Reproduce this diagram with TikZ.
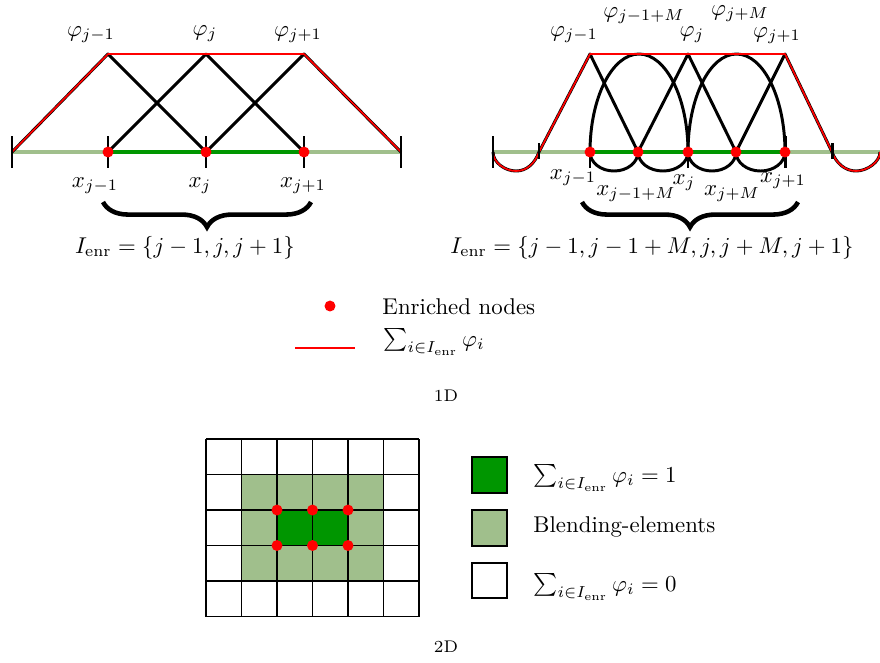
\documentclass[tikz,border=0pt]{standalone}
\usetikzlibrary{decorations.pathreplacing}
\definecolor{dgreen}{RGB}{0,150,0}
\definecolor{lgreen}{RGB}{160,191,140}
\definecolor{myred}{RGB}{255,0,0}
\begin{document}
\begin{tikzpicture}[x=0.438pt,y=-0.438pt,
 axisl/.style={lgreen,line width=1.4pt},
 axisd/.style={dgreen,line width=1.4pt},
 fn/.style={black,line width=1.3pt,line join=round},
 sumline/.style={myred,line width=0.75pt,line join=round},
 tickmark/.style={black,line width=1.3pt},
 enr/.style={circle,fill=myred,inner sep=0pt,minimum size=4.8pt},
 lbl/.style={inner sep=0pt,anchor=base},
 brc/.style={decorate,decoration={brace,mirror,amplitude=11pt},line width=2pt},
 cell/.style={draw=black,line width=0.7pt},
 legbox/.style={draw=black,line width=0.9pt}]
\useasboundingbox (0,0) rectangle (880,662);

% ---------------- left 1D ----------------
\coordinate (L0) at (12,152);
\coordinate (L1) at (108,152);
\coordinate (L2) at (206,152);
\coordinate (L3) at (304,152);
\coordinate (L4) at (401,152);
\coordinate (P1) at (108,54);
\coordinate (P2) at (206,54);
\coordinate (P3) at (304,54);
\draw[axisl] (L0) -- (L4);
\draw[axisd] (L1) -- (L3);
\draw[fn] (L0) -- (P1) -- (L2);
\draw[fn] (L1) -- (P2) -- (L3);
\draw[fn] (L2) -- (P3) -- (L4);
\draw[sumline] (L0) -- (P1) -- (P3) -- (L4);
\foreach \x in {12,108,206,304,401} \draw[tickmark] (\x,136) -- (\x,168);
\node[enr] (le1) at (L1) {};
\node[enr] (le2) at (L2) {};
\node[enr] (le3) at (L3) {};
\node[lbl] (lphi1) at (91,36) {$\varphi_{j-1}$};
\node[lbl] (lphi2) at (205,35) {$\varphi_{j}$};
\node[lbl] (lphi3) at (298,36) {$\varphi_{j+1}$};
\node[lbl] (lx1) at (95,187) {$x_{j-1}$};
\node[lbl] (lx2) at (200,187) {$x_{j}$};
\node[lbl] (lx3) at (303,187) {$x_{j+1}$};
\coordinate (lb1) at (103,202);
\coordinate (lb2) at (311,202);
\draw[brc] (lb1) -- (lb2);
\node[lbl] (lI) at (185,253) {$I_{\mathrm{enr}}=\{j-1,j,j+1\}$};

% ---------------- right 1D ----------------
\coordinate (R0) at (493,152);
\coordinate (Ra) at (539,152);
\coordinate (R1) at (590,152);
\coordinate (R2) at (638,152);
\coordinate (R3) at (688,152);
\coordinate (R4) at (736,152);
\coordinate (R5) at (785,152);
\coordinate (Rb) at (832,152);
\coordinate (R6) at (880,152);
\coordinate (Q1) at (590,54);
\coordinate (Q2) at (688,54);
\coordinate (Q3) at (785,54);
\coordinate (Qa) at (639,54);
\coordinate (Qb) at (736.5,54);
\draw[axisl] (R0) -- (R6);
\draw[axisd] (R1) -- (R5);
% hat functions
\draw[fn] (R0) .. controls (493,162.5) and (505,171) .. (516,171) .. controls (527,171) and (535,163) .. (Ra) -- (Q1) -- (R2);
\draw[fn] (R2) -- (Q2) -- (R4);
\draw[fn] (R4) -- (Q3) -- (Rb) .. controls (836,163) and (845,171) .. (856,171) .. controls (867,171) and (880,162) .. (R6);
% enriched arches
\draw[fn] (R1) .. controls (590,97.9) and (612,54) .. (Qa) .. controls (666,54) and (688,97.9) .. (R3);
\draw[fn] (R3) .. controls (688,97.9) and (709.7,54) .. (Qb) .. controls (763.3,54) and (785,97.9) .. (R5);
% dips below the axis
\draw[fn] (R1) .. controls (590,162.5) and (600.7,171) .. (614,171) .. controls (627.3,171) and (638,162.5) .. (R2);
\draw[fn] (R2) .. controls (638,162.5) and (649.2,171) .. (663,171) .. controls (676.8,171) and (688,162.5) .. (R3);
\draw[fn] (R3) .. controls (688,162.5) and (698.7,171) .. (712,171) .. controls (725.3,171) and (736,162.5) .. (R4);
\draw[fn] (R4) .. controls (736,162.5) and (747,171) .. (760.5,171) .. controls (774,171) and (785,162.5) .. (R5);
% sum of functions
\draw[sumline] (R0) .. controls (493,162.5) and (505,171) .. (516,171) .. controls (527,171) and (535,163) .. (Ra) -- (Q1) -- (Q3) -- (Rb) .. controls (836,163) and (845,171) .. (856,171) .. controls (867,171) and (880,162) .. (R6);
\foreach \x in {493,590,688,785} \draw[tickmark] (\x,136) -- (\x,168);
\foreach \x in {539,832} \draw[tickmark] (\x,143) -- (\x,159);
\node[enr] (re1) at (R1) {};
\node[enr] (re2) at (R2) {};
\node[enr] (re3) at (R3) {};
\node[enr] (re4) at (R4) {};
\node[enr] (re5) at (R5) {};
\node[lbl] (rphi1) at (574,36) {$\varphi_{j-1}$};
\node[lbl] (rphiM1) at (644,17) {$\varphi_{j-1+M}$};
\node[lbl] (rphi2) at (692,36) {$\varphi_{j}$};
\node[lbl] (rphiM2) at (740,15) {$\varphi_{j+M}$};
\node[lbl] (rphi3) at (777,37) {$\varphi_{j+1}$};
\node[lbl] (rx1) at (573,179) {$x_{j-1}$};
\node[lbl] (rxM1) at (636,195) {$x_{j-1+M}$};
\node[lbl] (rx2) at (684,184) {$x_{j}$};
\node[lbl] (rxM2) at (732,195) {$x_{j+M}$};
\node[lbl] (rx3) at (783,182) {$x_{j+1}$};
\coordinate (rb1) at (582,202);
\coordinate (rb2) at (798,202);
\draw[brc] (rb1) -- (rb2);
\node[lbl] (rI) at (652,253) {$I_{\mathrm{enr}}=\{j-1,j-1+M,j,j+M,j+1\}$};

% ---------------- 1D legend ----------------
\node[enr] (legdot) at (330,306) {};
\node[inner sep=0pt,anchor=base west] (legdottxt) at (382,314) {Enriched nodes};
\coordinate (ll1) at (295,348);
\coordinate (ll2) at (355,348);
\draw[sumline] (ll1) -- (ll2);
\node[inner sep=0pt,anchor=west] (leglinetxt) at (383,342) {$\sum_{i\in I_{\mathrm{enr}}}\varphi_i$};
\node[inner sep=0pt] (t1d) at (446,396) {\fontsize{7.4}{9}\selectfont 1D};

% ---------------- 2D grid ----------------
\fill[lgreen] (241.5,474.5) rectangle (383.5,581);
\fill[dgreen] (277,510) rectangle (348,545.5);
\foreach \i in {0,...,6} \draw[cell] ({206+35.5*\i},439) -- ({206+35.5*\i},616.5);
\foreach \j in {0,...,5} \draw[cell] (206,{439+35.5*\j}) -- (419,{439+35.5*\j});
\node[enr] (g1) at (277,510) {};
\node[enr] (g2) at (312.5,510) {};
\node[enr] (g3) at (348,510) {};
\node[enr] (g4) at (277,545.5) {};
\node[enr] (g5) at (312.5,545.5) {};
\node[enr] (g6) at (348,545.5) {};

% ---------------- 2D legend ----------------
\draw[legbox,fill=dgreen] (472,457) rectangle (507,493);
\draw[legbox,fill=lgreen] (472,510) rectangle (507,546);
\draw[legbox,fill=white] (472,563) rectangle (507,598);
\node[inner sep=0pt,anchor=west] (lg1) at (533,478) {$\sum_{i\in I_{\mathrm{enr}}}\varphi_i=1$};
\node[inner sep=0pt,anchor=base west] (lg2) at (533,532) {Blending-elements};
\node[inner sep=0pt,anchor=west] (lg3) at (533,587) {$\sum_{i\in I_{\mathrm{enr}}}\varphi_i=0$};
\node[inner sep=0pt] (t2d) at (446,647) {\fontsize{7.4}{9}\selectfont 2D};
\end{tikzpicture}
\end{document}
